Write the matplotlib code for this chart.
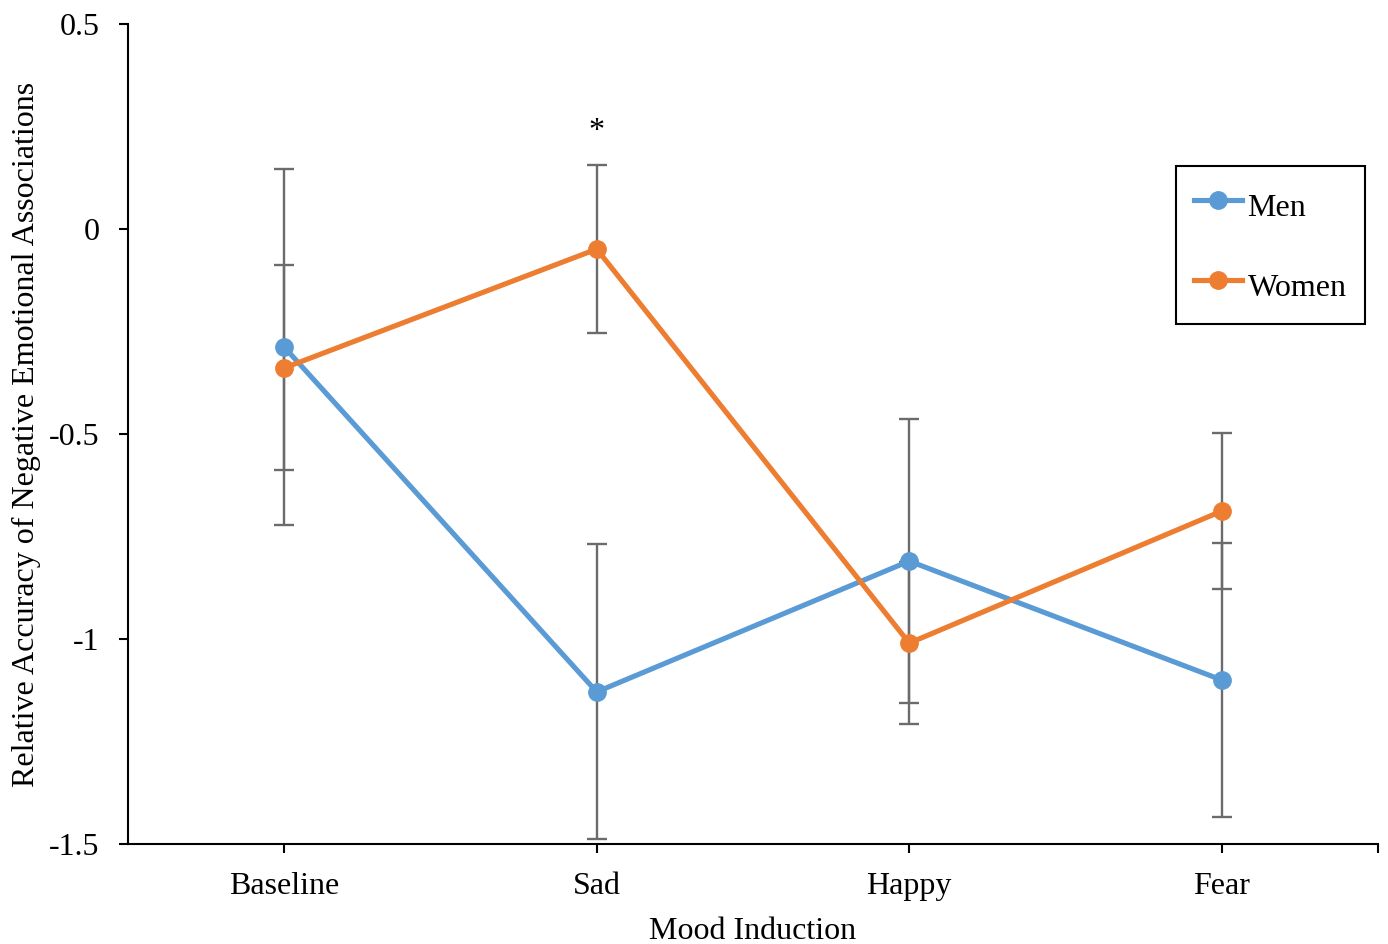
import matplotlib
matplotlib.use("Agg")
import matplotlib.pyplot as plt
import numpy as np

categories = ["Baseline", "Sad", "Happy", "Fear"]
men = [-0.288, -1.129, -0.81, -1.10]
men_err = [0.435, 0.36, 0.346, 0.335]
women = [-0.339, -0.049, -1.01, -0.688]
women_err = [0.25, 0.205, 0.198, 0.19]
yticks = [-1.5, -1.0, -0.5, 0.0, 0.5]
ytick_labels = ["-1.5", "-1", "-0.5", "0", "0.5"]
star_y = 0.238

plt.rcParams['font.family'] = ['Liberation Serif', 'DejaVu Serif']
FS = 23

fig = plt.figure(figsize=(13.88, 9.44), dpi=100)
ax = fig.add_axes([128/1388, 1-844/944, 1250/1388, 820/944])

x = np.arange(len(categories))
men_c = "#5B9BD5"
women_c = "#ED7D31"
err_c = "#6b6b6b"

ax.errorbar(x, men, yerr=men_err, fmt='none', ecolor=err_c, elinewidth=1.7,
            capsize=7, capthick=1.7, zorder=2)
ax.errorbar(x, women, yerr=women_err, fmt='none', ecolor=err_c, elinewidth=1.7,
            capsize=7, capthick=1.7, zorder=2)
ax.plot(x, men, color=men_c, lw=3.7, marker='o', ms=12.5, label="Men", zorder=3)
ax.plot(x, women, color=women_c, lw=3.7, marker='o', ms=12.5, label="Women", zorder=3)

ax.text(1, star_y, "*", ha='center', va='center', fontsize=FS)

ax.set_xlim(-0.5, 3.5)
ax.set_ylim(-1.5, 0.5)
ax.set_xticks(x)
ax.set_xticklabels(categories, fontsize=FS)
ax.set_xticks([3.5], minor=True)
ax.set_yticks(yticks)
ax.set_yticklabels(ytick_labels, fontsize=FS)
ax.tick_params(axis='both', which='both', direction='out', length=6.5, width=1.5, color='black')
ax.tick_params(axis='x', pad=14)
ax.tick_params(axis='y', pad=14)
for s in ['top', 'right']:
    ax.spines[s].set_visible(False)
for s in ['left', 'bottom']:
    ax.spines[s].set_linewidth(1.5)
    ax.spines[s].set_color('black')

ax.set_xlabel("Mood Induction", fontsize=FS, labelpad=11)
ax.set_ylabel("Relative Accuracy of Negative Emotional Associations", fontsize=FS, labelpad=6)

leg = ax.legend(loc='upper left', bbox_to_anchor=(0.838, 0.8265), borderaxespad=0,
                fontsize=FS, frameon=True, fancybox=False, edgecolor='black',
                framealpha=1, borderpad=0.58, labelspacing=1.22, handleheight=1.59,
                handlelength=1.5, handletextpad=0.17)
leg.get_frame().set_linewidth(1.5)

fig.savefig("out.png", dpi=100)
